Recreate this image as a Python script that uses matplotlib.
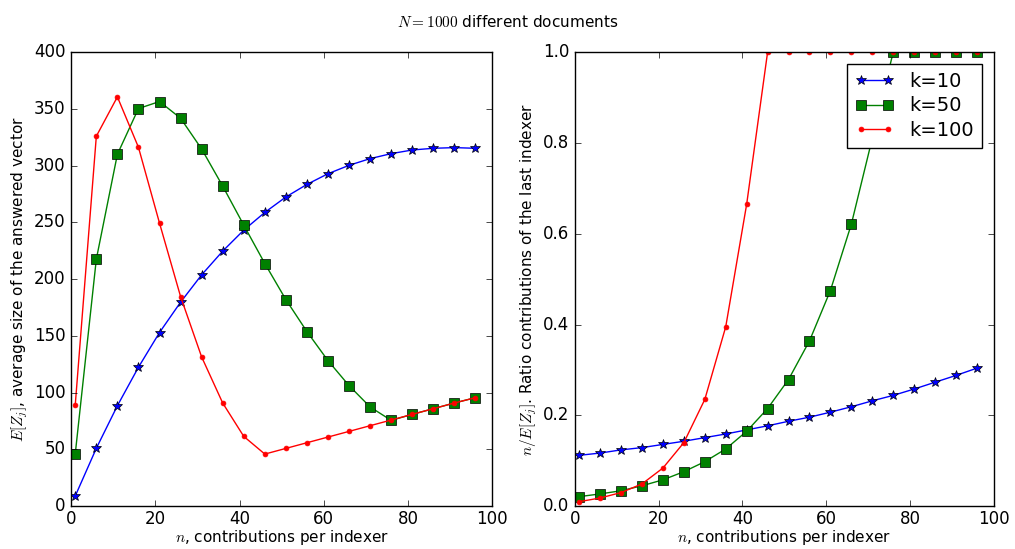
import matplotlib
matplotlib.use("Agg")
import matplotlib.pyplot as plt

plt.style.use('classic')

# contributions per indexer
n = [1, 6, 11, 16, 21, 26, 31, 36, 41, 46, 51, 56, 61, 66, 71, 76, 81, 86, 91, 96]

# E[Z_j], average size of the answered vector
size_k10 = [9, 51, 88.5, 122.4, 153, 179.7, 203.8, 224.7, 243.2, 258.8,
            272.4, 283.5, 292.9, 300.3, 306.2, 310.6, 313.8, 315.3, 315.9, 315.3]
size_k50 = [46.2, 217.6, 310, 350.3, 356.5, 341.8, 314.7, 282, 247.6, 213.8,
            182, 153.8, 128.2, 106.2, 87.4, 75.6, 80.9, 85.9, 90.9, 95.6]
size_k100 = [89.4, 325.9, 360.6, 316.2, 249.4, 184.7, 131.5, 90.9, 61.5, 45.9,
             50.9, 55.9, 60.9, 65.9, 70.9, 75.9, 80.9, 85.9, 90.9, 95.6]

# n / E[Z_j], ratio contributions of the last indexer
ratio_k10 = [0.112, 0.117, 0.124, 0.129, 0.136, 0.143, 0.151, 0.159, 0.168, 0.177,
             0.187, 0.196, 0.207, 0.219, 0.232, 0.244, 0.258, 0.273, 0.288, 0.304]
ratio_k50 = [0.021, 0.027, 0.034, 0.045, 0.058, 0.076, 0.098, 0.126, 0.165, 0.215,
             0.279, 0.364, 0.475, 0.621, 0.81, 1.0, 1.0, 1.0, 1.0, 1.0]
ratio_k100 = [0.010, 0.018, 0.030, 0.049, 0.084, 0.140, 0.235, 0.395, 0.665, 1.0,
              1.0, 1.0, 1.0, 1.0, 1.0, 1.0, 1.0, 1.0, 1.0, 1.0]

labels = ['k=10', 'k=50', 'k=100']

fig = plt.figure(figsize=(10.15, 5.49), dpi=100, facecolor='white')
fig.suptitle('$N=1000$ different documents', fontsize=11, y=0.975)

ax1 = fig.add_axes([0.070, 0.078, 0.415, 0.827])
ax1.plot(n, size_k10, 'b*-', markersize=7, label=labels[0])
ax1.plot(n, size_k50, 'gs-', markersize=7, label=labels[1])
ax1.plot(n, size_k100, 'r.-', markersize=7, label=labels[2])
ax1.set_xlim(0, 100)
ax1.set_ylim(0, 400)
ax1.set_xlabel('$n$, contributions per indexer', fontsize=11, labelpad=0)
ax1.set_ylabel('$E[Z_j]$, average size of the answered vector', fontsize=11, labelpad=3)

ax2 = fig.add_axes([0.5665, 0.078, 0.4125, 0.827])
ax2.plot(n, ratio_k10, 'b*-', markersize=7, label=labels[0])
ax2.plot(n, ratio_k50, 'gs-', markersize=7, label=labels[1])
ax2.plot(n, ratio_k100, 'r.-', markersize=7, label=labels[2])
ax2.set_xlim(0, 100)
ax2.set_ylim(0, 1.0)
ax2.set_xlabel('$n$, contributions per indexer', fontsize=11, labelpad=0)
ax2.set_ylabel('$n/E[Z_j]$. Ratio contributions of the last indexer', fontsize=11, labelpad=3)
ax2.legend(loc='upper right', numpoints=2, fontsize=14, labelspacing=0.3,
           borderaxespad=0.6)

for ax in (ax1, ax2):
    ax.tick_params(labelsize=12)
    ax.tick_params(axis='x', pad=3)

fig.savefig('out.png', dpi=100, facecolor='white')
